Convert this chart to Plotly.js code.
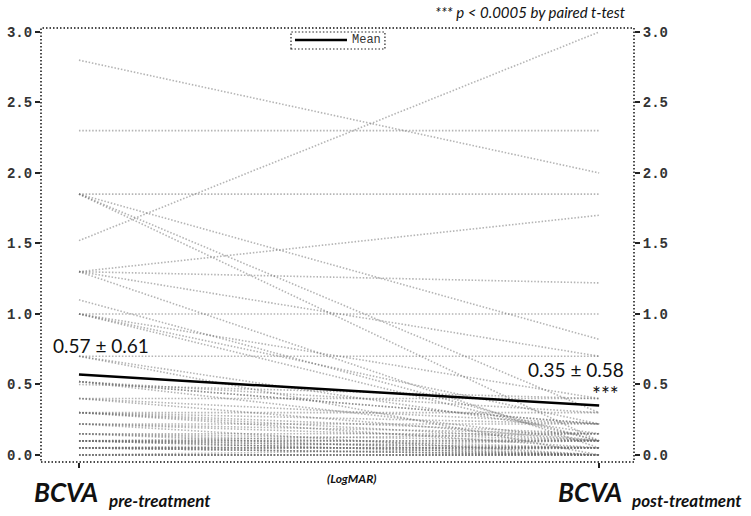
<!DOCTYPE html>
<html>
<head>
<meta charset="utf-8">
<script src="https://cdn.plot.ly/plotly-3.0.1.min.js"></script>
<style>html,body{margin:0;padding:0;background:#fff}#chart{width:751px;height:516px}</style>
</head>
<body>
<div id="chart"></div>
<script>
// Individual eyes: BCVA (LogMAR) before and after treatment
const preValues = [
  2.8, 2.3, 1.52, 1.85, 1.85, 1.85, 1.85, 1.3, 1.3, 1.3, 1.3, 1.1,
  1.0, 1.0, 1.0, 1.0, 0.7, 0.7, 0.7, 0.52, 0.52, 0.52, 0.52, 0.5,
  0.4, 0.4, 0.4, 0.3, 0.3, 0.3, 0.3, 0.3, 0.22, 0.22, 0.22, 0.22,
  0.15, 0.15, 0.15, 0.15, 0.1, 0.1, 0.1, 0.1, 0.05, 0.05, 0.05,
  0.0, 0.0, 0.0, 0.1, 0.05, 0.0, 0.1, 0.05, 0.0, 0.05, 0.1, 0.0, 0.05
];
const postValues = [
  2.0, 2.3, 3.0, 1.85, 0.1, 0.82, 0.3, 1.7, 1.22, 0.7, 0.05, 0.1,
  1.0, 0.1, 0.4, 0.22, 0.7, 0.0, 0.15, 0.22, 0.3, 0.22, 0.1, 0.4,
  0.4, 0.22, 0.1, 0.3, 0.22, 0.15, 0.1, 0.05, 0.22, 0.15, 0.1, 0.0,
  0.15, 0.1, 0.05, 0.0, 0.1, 0.05, 0.0, 0.15, 0.05, 0.0, 0.1,
  0.0, 0.05, 0.0, 0.05, 0.0, 0.0, 0.1, 0.05, 0.0, 0.05, 0.0, 0.0, 0.0
];
const timepoints = [0, 1];
const meanValues = [0.57, 0.35];
const sdValues = [0.61, 0.58];
const yTickVals = [0, 0.5, 1, 1.5, 2, 2.5, 3];

const traces = [];
for (let i = 0; i < preValues.length; i++) {
  traces.push({
    x: timepoints, y: [preValues[i], postValues[i]],
    type: 'scatter', mode: 'lines',
    line: {color: 'rgba(105,105,105,0.5)', width: 1.6, dash: '1.5px,1.8px'},
    showlegend: false, hoverinfo: 'skip'
  });
}
traces.push({
  x: timepoints, y: meanValues, type: 'scatter', mode: 'lines',
  name: 'Mean', line: {color: '#000', width: 2.5}, showlegend: false
});
// invisible trace to anchor right axis
traces.push({x: timepoints, y: meanValues, yaxis: 'y2', type: 'scatter', mode: 'lines',
  line: {width: 0}, opacity: 0, showlegend: false, hoverinfo: 'skip'});

const monoFam = 'Liberation Mono, DejaVu Sans Mono, monospace';
const tickFont = {family: monoFam, size: 14, color: '#333', weight: 'bold'};
const yRange = [-0.05, 3.028];
const yCommon = {
  range: yRange, tickvals: yTickVals, tickformat: '.1f',
  ticks: 'outside', ticklen: 5, tickwidth: 2, tickcolor: '#222',
  showgrid: false, zeroline: false, showline: false, tickfont: tickFont
};

const lab = {family: 'Lato, Open Sans, sans-serif', color: '#111'};
const layout = {
  width: 751, height: 516,
  margin: {l: 41, r: 117, t: 28, b: 54},
  paper_bgcolor: '#fff', plot_bgcolor: '#fff',
  xaxis: {
    range: [-0.073, 1.067], tickvals: timepoints, ticktext: ['', ''],
    ticks: 'outside', ticklen: 5, tickwidth: 2, tickcolor: '#222',
    showgrid: false, zeroline: false, showline: false
  },
  yaxis: Object.assign({side: 'left'}, yCommon),
  yaxis2: Object.assign({side: 'right', overlaying: 'y'}, yCommon),
  showlegend: false,
  shapes: [
    {type: 'rect', xref: 'paper', yref: 'paper', x0: 0, x1: 1, y0: 0, y1: 1,
     line: {color: '#111', width: 1.5, dash: '1.5px,2px'}},
    // legend box and sample
    {type: 'rect', xref: 'paper', yref: 'paper', x0: 0.4216, x1: 0.580, y0: 0.9516, y1: 0.9908,
     line: {color: '#222', width: 1.2, dash: '1.5px,2px'}},
    {type: 'line', xref: 'paper', yref: 'paper', x0: 0.4283, x1: 0.516, y0: 0.9724, y1: 0.9724,
     line: {color: '#000', width: 2.5}}
  ],
  annotations: [
    {xref: 'paper', yref: 'paper', x: 0.521, y: 0.9724, xanchor: 'left', yanchor: 'middle',
     text: 'Mean', showarrow: false, font: {family: monoFam, size: 12, color: '#333'}},
    {xref: 'paper', yref: 'paper', x: 0.99, y: 1.0, yshift: 16, xanchor: 'right', yanchor: 'middle',
     text: '<i>*** p < 0.0005 by paired t-test</i>', showarrow: false,
     font: Object.assign({size: 15}, lab)},
    {xref: 'x', yref: 'paper', x: 0, y: 0, yshift: -30, xshift: 21, xanchor: 'right', yanchor: 'middle',
     text: '<b><i>BCVA</i></b>', showarrow: false, font: Object.assign({size: 26}, lab)},
    {xref: 'x', yref: 'paper', x: 0, y: 0, yshift: -38, xshift: 27, xanchor: 'left', yanchor: 'middle',
     text: '<b><i>pre-treatment</i></b>', showarrow: false, font: Object.assign({size: 17}, lab)},
    {xref: 'x', yref: 'paper', x: 1, y: 0, yshift: -30, xshift: 25, xanchor: 'right', yanchor: 'middle',
     text: '<b><i>BCVA</i></b>', showarrow: false, font: Object.assign({size: 26}, lab)},
    {xref: 'x', yref: 'paper', x: 1, y: 0, yshift: -38, xshift: 30, xanchor: 'left', yanchor: 'middle',
     text: '<b><i>post-treatment</i></b>', showarrow: false, font: Object.assign({size: 17}, lab)},
    {xref: 'paper', yref: 'paper', x: 0.524, y: 0, yshift: -16, xanchor: 'center', yanchor: 'middle',
     text: '<b><i>(LogMAR)</i></b>', showarrow: false, font: Object.assign({size: 12}, lab)},
    {xref: 'x', yref: 'y', x: 0, y: meanValues[0], yshift: 29, xshift: -28, xanchor: 'left', yanchor: 'middle',
     text: meanValues[0].toFixed(2) + ' ± ' + sdValues[0].toFixed(2), showarrow: false,
     font: Object.assign({size: 19}, lab)},
    {xref: 'x', yref: 'y', x: 1, y: meanValues[1], yshift: 36, xshift: 27, xanchor: 'right', yanchor: 'middle',
     text: meanValues[1].toFixed(2) + ' ± ' + sdValues[1].toFixed(2), showarrow: false,
     font: Object.assign({size: 19}, lab)},
    {xref: 'x', yref: 'y', x: 1, y: meanValues[1], yshift: 12, xshift: 22, xanchor: 'right', yanchor: 'middle',
     text: '***', showarrow: false, font: Object.assign({size: 21}, lab)}
  ]
};

Plotly.newPlot('chart', traces, layout, {displayModeBar: false, staticPlot: true});
</script>
</body>
</html>
